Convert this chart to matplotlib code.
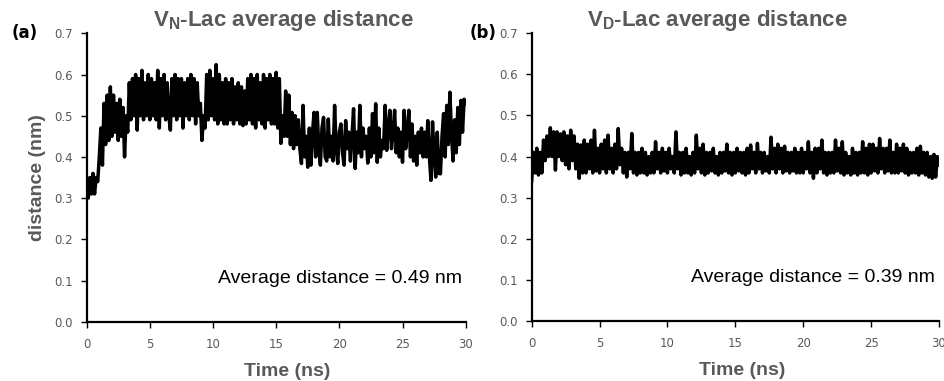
import numpy as np
import matplotlib.pyplot as plt

# distance trajectories, 0.125 ns apart (0 .. 30 ns)
vn_lac = [
    0.33, 0.30, 0.35, 0.31, 0.36, 0.31, 0.35, 0.34,
    0.40, 0.47, 0.38, 0.53, 0.43, 0.55, 0.44, 0.57,
    0.45, 0.55, 0.46, 0.53, 0.44, 0.54, 0.45, 0.52,
    0.40, 0.50, 0.46, 0.58, 0.49, 0.59, 0.50, 0.60,
    0.465, 0.59, 0.50, 0.61, 0.49, 0.58, 0.50, 0.60,
    0.49, 0.59, 0.50, 0.58, 0.49, 0.61, 0.47, 0.59,
    0.50, 0.60, 0.49, 0.58, 0.50, 0.465, 0.59, 0.50,
    0.60, 0.49, 0.59, 0.50, 0.59, 0.47, 0.58, 0.50,
    0.59, 0.49, 0.60, 0.50, 0.59, 0.48, 0.58, 0.50,
    0.53, 0.44, 0.50, 0.47, 0.60, 0.49, 0.61, 0.50,
    0.59, 0.49, 0.624, 0.48, 0.60, 0.49, 0.58, 0.48,
    0.59, 0.48, 0.58, 0.49, 0.59, 0.48, 0.57, 0.49,
    0.58, 0.48, 0.57, 0.476, 0.56, 0.48, 0.59, 0.49,
    0.60, 0.48, 0.59, 0.47, 0.60, 0.49, 0.58, 0.48,
    0.60, 0.47, 0.59, 0.49, 0.60, 0.48, 0.59, 0.48,
    0.605, 0.47, 0.59, 0.433, 0.50, 0.45, 0.56, 0.45,
    0.55, 0.43, 0.508, 0.42, 0.50, 0.43, 0.49, 0.42,
    0.384, 0.525, 0.40, 0.45, 0.375, 0.47, 0.38, 0.46,
    0.508, 0.40, 0.508, 0.42, 0.38, 0.47, 0.496, 0.40,
    0.39, 0.492, 0.40, 0.45, 0.39, 0.525, 0.42, 0.384,
    0.46, 0.48, 0.41, 0.38, 0.488, 0.42, 0.46, 0.39,
    0.45, 0.517, 0.372, 0.46, 0.41, 0.525, 0.40, 0.47,
    0.42, 0.45, 0.385, 0.47, 0.40, 0.505, 0.41, 0.529,
    0.387, 0.47, 0.40, 0.44, 0.42, 0.525, 0.416, 0.47,
    0.513, 0.42, 0.46, 0.513, 0.41, 0.47, 0.40, 0.46,
    0.387, 0.513, 0.42, 0.46, 0.513, 0.40, 0.48, 0.39,
    0.45, 0.38, 0.46, 0.41, 0.47, 0.40, 0.46, 0.40,
    0.488, 0.40, 0.343, 0.485, 0.40, 0.351, 0.46, 0.36,
    0.359, 0.45, 0.505, 0.40, 0.525, 0.43, 0.557, 0.456,
    0.39, 0.49, 0.41, 0.52, 0.43, 0.537, 0.46, 0.54,
    0.53,
]

vd_lac = [
    0.34, 0.41, 0.36, 0.42, 0.355, 0.41, 0.36, 0.44,
    0.39, 0.45, 0.40, 0.47, 0.40, 0.46, 0.367, 0.46,
    0.40, 0.455, 0.39, 0.46, 0.38, 0.45, 0.37, 0.464,
    0.39, 0.45, 0.37, 0.43, 0.347, 0.428, 0.36, 0.44,
    0.36, 0.43, 0.37, 0.44, 0.36, 0.464, 0.365, 0.42,
    0.36, 0.43, 0.37, 0.44, 0.36, 0.452, 0.37, 0.42,
    0.36, 0.43, 0.37, 0.468, 0.38, 0.42, 0.36, 0.41,
    0.35, 0.41, 0.37, 0.456, 0.36, 0.41, 0.355, 0.41,
    0.36, 0.42, 0.36, 0.41, 0.355, 0.40, 0.36, 0.41,
    0.36, 0.436, 0.37, 0.41, 0.36, 0.42, 0.365, 0.41,
    0.36, 0.42, 0.37, 0.40, 0.36, 0.46, 0.37, 0.41,
    0.355, 0.41, 0.36, 0.42, 0.36, 0.40, 0.355, 0.41,
    0.36, 0.452, 0.37, 0.42, 0.36, 0.43, 0.355, 0.41,
    0.36, 0.41, 0.365, 0.42, 0.36, 0.40, 0.355, 0.41,
    0.36, 0.41, 0.365, 0.43, 0.36, 0.41, 0.355, 0.41,
    0.36, 0.42, 0.365, 0.41, 0.36, 0.41, 0.355, 0.42,
    0.36, 0.428, 0.37, 0.41, 0.36, 0.432, 0.37, 0.41,
    0.36, 0.41, 0.365, 0.40, 0.36, 0.447, 0.37, 0.42,
    0.36, 0.43, 0.37, 0.42, 0.36, 0.425, 0.365, 0.41,
    0.36, 0.41, 0.365, 0.42, 0.36, 0.41, 0.36, 0.42,
    0.36, 0.41, 0.37, 0.436, 0.36, 0.41, 0.347, 0.42,
    0.36, 0.42, 0.37, 0.44, 0.36, 0.41, 0.355, 0.41,
    0.36, 0.41, 0.36, 0.44, 0.365, 0.42, 0.36, 0.436,
    0.355, 0.41, 0.36, 0.40, 0.355, 0.42, 0.36, 0.41,
    0.355, 0.41, 0.36, 0.436, 0.36, 0.42, 0.355, 0.43,
    0.36, 0.43, 0.365, 0.42, 0.36, 0.444, 0.37, 0.42,
    0.36, 0.42, 0.365, 0.44, 0.36, 0.41, 0.36, 0.43,
    0.36, 0.42, 0.365, 0.43, 0.36, 0.42, 0.355, 0.41,
    0.36, 0.41, 0.36, 0.42, 0.355, 0.425, 0.36, 0.41,
    0.355, 0.41, 0.35, 0.40, 0.347, 0.405, 0.35, 0.40,
    0.38,
]

time_step = 0.125  # ns
y_ticks = [0.0, 0.1, 0.2, 0.3, 0.4, 0.5, 0.6, 0.7]
x_ticks = [0, 5, 10, 15, 20, 25, 30]

grey = '#595959'

fig = plt.figure(figsize=(9.45, 3.81), dpi=100)
ax_a = fig.add_axes([0.0917, 0.1556, 0.4011, 0.757])
ax_b = fig.add_axes([0.5626, 0.158, 0.4311, 0.7546])

panels = [
    (ax_a, vn_lac, 'Average distance = 0.49 nm', 0.528),
    (ax_b, vd_lac, 'Average distance = 0.39 nm', 0.516),
]

for ax, series, note, xlab_pos in panels:
    t = np.arange(len(series)) * time_step
    ax.plot(t, series, color='black', lw=2.5, solid_joinstyle='round')
    ax.set_xlim(0, 30)
    ax.set_ylim(0, 0.7)
    ax.set_xticks(x_ticks)
    ax.set_yticks(y_ticks)
    ax.set_yticklabels(['%.1f' % v for v in y_ticks])
    for side in ['top', 'right']:
        ax.spines[side].set_visible(False)
    for side in ['left', 'bottom']:
        ax.spines[side].set_linewidth(1.6)
    ax.tick_params(labelsize=8.5, length=4, width=1)
    ax.tick_params(axis='x', colors='black', labelcolor=grey, pad=8)
    ax.tick_params(axis='y', colors='black', labelcolor=grey, pad=6)
    ax.text(0.99, 0.135, note, transform=ax.transAxes, ha='right', va='baseline',
            fontsize=14, family='Liberation Sans', clip_on=False)
    ax.set_xlabel('Time (ns)', fontsize=14, fontweight='bold', color=grey,
                  family='Liberation Sans')
    ax.xaxis.set_label_coords(xlab_pos, -0.143)

ax_a.set_ylabel('distance (nm)', fontsize=14, fontweight='bold', color=grey,
                family='Liberation Sans')
ax_a.yaxis.set_label_coords(-0.108, 0.5)

fig.text(0.300, 0.945, r'V$_\mathregular{N}$-Lac average distance', ha='center', va='center',
         fontsize=16, fontweight='bold', color=grey, family='Liberation Sans')
fig.text(0.759, 0.945, r'V$_\mathregular{D}$-Lac average distance', ha='center', va='center',
         fontsize=16, fontweight='bold', color=grey, family='Liberation Sans')
fig.text(0.012, 0.913, '(a)', ha='left', va='center', fontsize=12, fontweight='bold')
fig.text(0.497, 0.913, '(b)', ha='left', va='center', fontsize=12, fontweight='bold')

fig.savefig('out.png', dpi=100)
